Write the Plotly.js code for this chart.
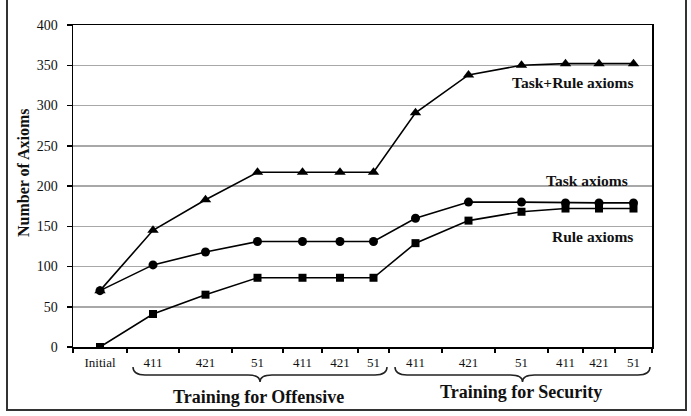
<!DOCTYPE html>
<html><head><meta charset="utf-8">
<script src="https://cdn.plot.ly/plotly-3.0.1.min.js"></script>
<style>html,body{margin:0;padding:0;background:#fff}#chart{width:691px;height:416px}</style>
</head><body><div id="chart"></div>
<script>
// Axiom counts after each training stage
const stages = ['Initial','411','421','51','411','421','51','411','421','51','411','421','51'];
const taskAxioms     = [70,102,118,131,131,131,131,160,180,180,179,179,179];
const ruleAxioms     = [0,41,65,86,86,86,86,129,157,168,172,172,172];
const taskRuleAxioms = [70,145,183,217,217,217,217,291,338,350,352,352,352];
const seriesNames = ['Task+Rule axioms','Task axioms','Rule axioms'];
const groupNames = ['Training for Offensive','Training for Security'];
const yTicks = [0,50,100,150,200,250,300,350,400];

// Layout: each stage sits in its own slot; slots differ in width
const slotWidths = [54,52,53,51,39,36,31,53,53,53,35,32,37];
const bounds = [0];
slotWidths.forEach(w => bounds.push(bounds[bounds.length - 1] + w));
const centers = slotWidths.map((w, i) => bounds[i] + w / 2);
const xMax = bounds[bounds.length - 1];
const groupSlots = [[1, 6], [7, 12]];

const serif = 'Liberation Serif, Times New Roman, serif';
const line = {color: '#000', width: 1.6};

const traces = [
  {x: centers, y: taskRuleAxioms, name: seriesNames[0], mode: 'lines+markers', line,
   marker: {symbol: 'triangle-up', size: 10, color: '#000'}},
  {x: centers, y: taskAxioms, name: seriesNames[1], mode: 'lines+markers', line,
   marker: {symbol: 'circle', size: 9, color: '#000'}},
  {x: centers, y: ruleAxioms, name: seriesNames[2], mode: 'lines+markers', line,
   marker: {symbol: 'square', size: 8, color: '#000'}}
];

// plot area in pixels
const M = {l: 73, r: 39, t: 25, b: 69};
const W = 691, H = 416;
const pw = W - M.l - M.r, ph = H - M.t - M.b;
const py = p => (H - M.b - p) / ph;   // pixel row -> paper y
const px = p => (p - M.l) / pw;       // pixel column -> paper x

function brace(x0, x1, yTop, yMid, yTip, r) {
  const xm = (x0 + x1) / 2;
  return `M${x0},${yTop} Q${x0},${yMid} ${x0 + r},${yMid} L${xm - r},${yMid} ` +
         `Q${xm},${yMid} ${xm},${yTip} Q${xm},${yMid} ${xm + r},${yMid} ` +
         `L${x1 - r},${yMid} Q${x1},${yMid} ${x1},${yTop}`;
}

const shapes = groupSlots.map(([a, b]) => ({
  type: 'path', xref: 'x', yref: 'paper',
  path: brace(bounds[a] + 6, bounds[b + 1] - 2, py(367), py(375), py(382), 12),
  line: {color: '#222', width: 1.5}
}));
// outer frame
shapes.push({type: 'rect', xref: 'paper', yref: 'paper',
  x0: px(7), x1: px(686), y0: py(410), y1: py(-6),
  line: {color: '#333', width: 2}, fillcolor: 'rgba(0,0,0,0)'});

const annotations = [
  {text: seriesNames[0], x: 500, y: 328},
  {text: seriesNames[1], x: 514, y: 207},
  {text: seriesNames[2], x: 519, y: 137}
].map(a => Object.assign(a, {xref: 'x', yref: 'y', showarrow: false,
  xanchor: 'center', yanchor: 'middle',
  font: {family: serif, size: 15.5, color: '#111', weight: 'bold'}}));

groupSlots.forEach(([a, b], i) => {
  annotations.push({text: groupNames[i], xref: 'x', yref: 'paper',
    x: (bounds[a] + bounds[b + 1]) / 2, y: py(i === 0 ? 397 : 392),
    xanchor: 'center', yanchor: 'middle', showarrow: false,
    font: {family: serif, size: 18, color: '#111', weight: 'bold'}});
});
annotations.push({text: 'Number of Axioms', textangle: -90, xref: 'paper', yref: 'paper',
  x: px(23), y: py(173), xanchor: 'center', yanchor: 'middle', showarrow: false,
  font: {family: serif, size: 16, color: '#111', weight: 'bold'}});

const layout = {
  width: W, height: H, margin: M,
  paper_bgcolor: '#fff', plot_bgcolor: '#fff', showlegend: false,
  font: {family: serif, color: '#111'},
  xaxis: {
    range: [0, xMax], showgrid: false, zeroline: false,
    showline: true, linecolor: '#000', linewidth: 1.5, mirror: true,
    tickmode: 'array', tickvals: centers, ticktext: stages, ticks: '',
    tickfont: {family: serif, size: 13, color: '#111'}, ticklabelstandoff: 3,
    minor: {tickmode: 'array', tickvals: bounds, ticks: 'outside', ticklen: 4,
            tickwidth: 1.5, tickcolor: '#000', showgrid: false}
  },
  yaxis: {
    range: [0, 400], tickmode: 'array', tickvals: yTicks,
    showgrid: true, gridcolor: '#a8a8a8', gridwidth: 1.5, zeroline: false,
    showline: true, linecolor: '#000', linewidth: 1.5, mirror: true,
    ticks: 'outside', ticklen: 5, tickwidth: 1.5, tickcolor: '#000',
    tickfont: {family: serif, size: 14, color: '#111'}, ticklabelstandoff: 6
  },
  shapes, annotations
};

Plotly.newPlot('chart', traces, layout, {displayModeBar: false, staticPlot: true});
</script></body></html>
